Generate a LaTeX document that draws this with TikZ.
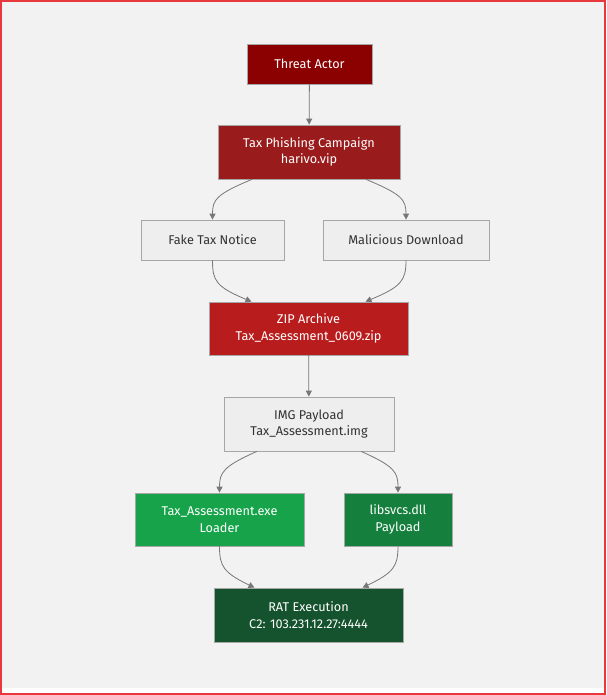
\documentclass[tikz,border=0pt]{standalone}
\usepackage{fontspec}
\setmainfont{Fira Sans}
\usetikzlibrary{arrows.meta}
\definecolor{bg}{HTML}{F2F2F2}
\definecolor{frame}{HTML}{E8383D}
\definecolor{cActor}{HTML}{8B0000}
\definecolor{cPhish}{HTML}{991B1B}
\definecolor{cZip}{HTML}{B91C1C}
\definecolor{cExe}{HTML}{16A34A}
\definecolor{cDll}{HTML}{15803D}
\definecolor{cRat}{HTML}{14532D}
\definecolor{cLight}{HTML}{EEEEEE}
\definecolor{cEdge}{HTML}{777777}
\definecolor{cText}{HTML}{333333}
\begin{document}
\begin{tikzpicture}[x=1pt,y=-1pt,
  box/.style={draw=gray!70, line width=0.7pt, minimum width=#1, inner sep=0pt, align=center,
    font=\fontsize{12.7}{16.5}\selectfont},
  dark/.style={text=white},
  light/.style={fill=cLight, text=cText},
  edge/.style={draw=cEdge, line width=0.8pt, -{Triangle[length=6pt,width=6pt]}}]
\useasboundingbox (0,0) rectangle (606,695);
\fill[white] (0,0) rectangle (606,695);
\fill[bg] (1,1) rectangle (605,688);
\draw[frame, line width=2pt] (1,1) rectangle (605,694);
% nodes
\node[box=125pt, minimum height=40pt, fill=cActor, dark] (actor) at (309.5,64) {Threat Actor};
\node[box=182pt, minimum height=54pt, fill=cPhish, dark] (phish) at (309,152) {Tax Phishing Campaign\\harivo.vip};
\node[box=143pt, minimum height=40pt, light] (fake) at (212.5,240) {Fake Tax Notice};
\node[box=166pt, minimum height=40pt, light] (mal) at (406,240) {Malicious Download};
\node[box=199pt, minimum height=53pt, fill=cZip, dark] (zip) at (308.5,328.5) {ZIP Archive\\Tax\_Assessment\_0609.zip};
\node[box=170pt, minimum height=54pt, light] (img) at (309,424) {IMG Payload\\Tax\_Assessment.img};
\node[box=169pt, minimum height=53pt, fill=cExe, dark] (exe) at (219.5,519.5) {Tax\_Assessment.exe\\Loader};
\node[box=108pt, minimum height=53pt, fill=cDll, dark] (dll) at (398,519.5) {libsvcs.dll\\Payload};
\node[box=189pt, minimum height=54pt, fill=cRat, dark] (rat) at (308.5,615) {RAT Execution\\C2: 103.231.12.27:4444};
% edges
\draw[edge] (actor) -- (phish);
\draw[edge] ([xshift=-57pt]phish.south) .. controls +(-36,15) and +(0,-20) .. (fake.north);
\draw[edge] ([xshift=57pt]phish.south) .. controls +(36,15) and +(0,-20) .. (mal.north);
\draw[edge] (fake.south) .. controls +(0,20) and +(-36,-15) .. ([xshift=-57pt]zip.north);
\draw[edge] (mal.south) .. controls +(0,20) and +(36,-15) .. ([xshift=57pt]zip.north);
\draw[edge] (zip) -- (img);
\draw[edge] ([xshift=-52pt]img.south) .. controls +(-34,15) and +(0,-20) .. (exe.north);
\draw[edge] ([xshift=52pt]img.south) .. controls +(34,15) and +(0,-20) .. (dll.north);
\draw[edge] (exe.south) .. controls +(0,20) and +(-31,-15) .. ([xshift=-54pt]rat.north);
\draw[edge] (dll.south) .. controls +(0,20) and +(31,-15) .. ([xshift=54pt]rat.north);
\end{tikzpicture}
\end{document}
